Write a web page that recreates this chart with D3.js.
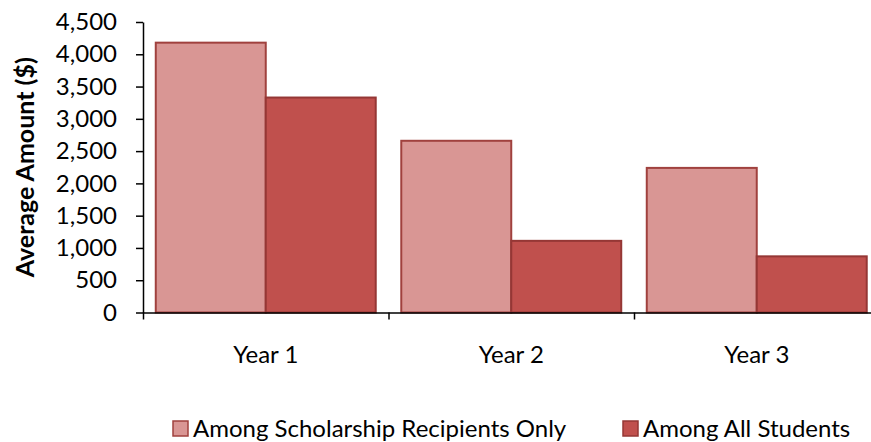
<!DOCTYPE html>
<html>
<head>
<meta charset="utf-8">
<script src="https://cdn.jsdelivr.net/npm/d3@7"></script>
<style>
  html, body { margin: 0; padding: 0; background: #fff; }
  svg { display: block; font-family: Lato, "Open Sans", sans-serif; }
</style>
</head>
<body>
<svg id="chart" width="871" height="442"></svg>
<script>
// Average award amount per year, two groups
const categories = ["Year 1", "Year 2", "Year 3"];
const seriesNames = ["Among Scholarship Recipients Only", "Among All Students"];
const recipientsOnly = [4180, 2660, 2240];
const allStudents = [3330, 1110, 870];
const yTicks = [0, 500, 1000, 1500, 2000, 2500, 3000, 3500, 4000, 4500];

const fills = ["#D99694", "#C0504D"];
const strokes = ["#A0413E", "#953735"];
const fontSize = 24;

const svg = d3.select("#chart");
const plotLeft = 143, plotRight = 879.5, plotTop = 22, plotBottom = 312.5;

const y = d3.scaleLinear().domain([0, 4500]).range([plotBottom, plotTop]);
const x0 = d3.scaleBand().domain(categories).range([plotLeft, plotRight])
  .paddingInner(0.104).paddingOuter(0.052);
const x1 = d3.scaleBand().domain(seriesNames).range([0, x0.bandwidth()]);

const rows = categories.map((c, i) => ({
  cat: c,
  vals: [recipientsOnly[i], allStudents[i]]
}));

// bars
const groups = svg.append("g").selectAll("g").data(rows).join("g")
  .attr("transform", d => `translate(${x0(d.cat)},0)`);
groups.selectAll("rect")
  .data(d => d.vals.map((v, k) => ({ v, k })))
  .join("rect")
  .attr("x", d => x1(seriesNames[d.k]))
  .attr("y", d => y(d.v))
  .attr("width", x1.bandwidth())
  .attr("height", d => y(0) - y(d.v))
  .attr("fill", d => fills[d.k])
  .attr("stroke", d => strokes[d.k])
  .attr("stroke-width", 2);

// y axis
const yAxis = svg.append("g").attr("transform", `translate(${plotLeft},0)`)
  .call(d3.axisLeft(y).tickValues(yTicks).tickFormat(d3.format(",")).tickSize(7).tickPadding(19).tickSizeOuter(0));
yAxis.select(".domain").attr("stroke", "#000").attr("stroke-width", 1.5);
yAxis.selectAll(".tick line").attr("stroke", "#000").attr("stroke-width", 1.5);
yAxis.selectAll("text").attr("font-size", fontSize).attr("fill", "#000")
  .style("font-family", "Lato, sans-serif");

// x axis: boundary ticks between categories
const xb = d3.scaleLinear().domain([0, categories.length]).range([plotLeft, plotRight]);
const xAxis = svg.append("g").attr("transform", `translate(0,${plotBottom})`)
  .call(d3.axisBottom(xb).tickValues(d3.range(categories.length + 1)).tickFormat("").tickSize(7).tickSizeOuter(0));
xAxis.select(".domain").attr("stroke", "#000").attr("stroke-width", 1.5);
xAxis.selectAll(".tick line").attr("stroke", "#000").attr("stroke-width", 1.5);

// category labels
const xLab = svg.append("g").attr("transform", `translate(0,${plotBottom})`)
  .call(d3.axisBottom(x0).tickSize(0).tickPadding(33));
xLab.select(".domain").remove();
xLab.selectAll("text").attr("font-size", fontSize).attr("fill", "#000")
  .style("font-family", "Lato, sans-serif");

// y axis title
svg.append("text")
  .attr("transform", `translate(34,${(plotTop + plotBottom) / 2}) rotate(-90)`)
  .attr("text-anchor", "middle")
  .attr("font-size", 25)
  .attr("font-weight", "bold")
  .text("Average Amount ($)");

// legend
const legendItems = [
  { name: seriesNames[0], x: 173 },
  { name: seriesNames[1], x: 623 }
];
const lg = svg.append("g").selectAll("g").data(legendItems).join("g")
  .attr("transform", d => `translate(${d.x},421)`);
lg.append("rect").attr("width", 15).attr("height", 15)
  .attr("fill", (d, i) => fills[i]).attr("stroke", (d, i) => strokes[i]).attr("stroke-width", 1.5);
lg.append("text").attr("x", 20).attr("y", 16)
  .attr("font-size", fontSize).attr("fill", "#000").text(d => d.name);
</script>
</body>
</html>
